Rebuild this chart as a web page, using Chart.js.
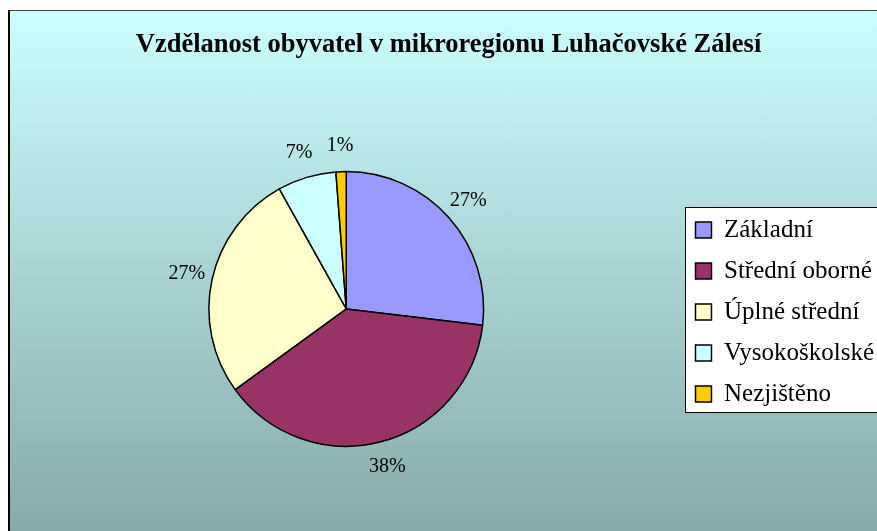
<!DOCTYPE html>
<html>
<head>
<meta charset="utf-8">
<script src="https://cdn.jsdelivr.net/npm/chart.js@4.4.1/dist/chart.umd.min.js"></script>
<style>
  html, body { margin: 0; padding: 0; background: #fff; overflow: hidden; width: 877px; height: 531px; }
  #frame {
    position: absolute; left: 8px; top: 10px; width: 930px; height: 530px;
    border-left: 2px solid #000; border-top: 1px solid #404040;
    background: linear-gradient(to bottom, #cbfefe 0%, #86a8a8 100%);
  }
  #chart { position: absolute; left: 0; top: 0; }
</style>
</head>
<body>
<div id="frame"></div>
<canvas id="chart" width="940" height="531"></canvas>
<script>
const titleText = 'Vzdělanost obyvatel v mikroregionu Luhačovské Zálesí';
const categories = ['Základní', 'Střední oborné', 'Úplné střední', 'Vysokoškolské', 'Nezjištěno'];
const shares = [26.9, 38.1, 26.9, 6.9, 1.2];
const sliceColors = ['#9999ff', '#993366', '#ffffcc', '#ccffff', '#ffcc00'];

Chart.defaults.font.family = '"Liberation Serif", "Times New Roman", serif';
Chart.defaults.color = '#000';

// bílý rámeček za legendou
const legendFrame = {
  id: 'legendFrame',
  beforeDraw(chart) {
    const hb = chart.legend.legendHitBoxes;
    if (!hb || !hb.length) return;
    const last = hb[hb.length - 1];
    const left = Math.round(hb[0].left - 10);
    const top = Math.round(hb[0].top - 10.5);
    const bottom = Math.round(last.top + 30.5);
    const ctx = chart.ctx;
    ctx.save();
    ctx.fillStyle = '#fff';
    ctx.fillRect(left, top, chart.width - left + 10, bottom - top);
    ctx.strokeStyle = '#000';
    ctx.lineWidth = 1;
    ctx.strokeRect(left + 0.5, top + 0.5, chart.width, bottom - top);
    ctx.restore();
  }
};

// procenta vně výsečí
const sliceLabels = {
  id: 'sliceLabels',
  afterDatasetsDraw(chart) {
    const ctx = chart.ctx;
    const meta = chart.getDatasetMeta(0);
    const total = shares.reduce((a, b) => a + b, 0);
    ctx.save();
    ctx.font = '20px "Liberation Serif", serif';
    ctx.fillStyle = '#000';
    ctx.textAlign = 'center';
    ctx.textBaseline = 'middle';
    meta.data.forEach((arc, i) => {
      const p = arc.getProps(['x', 'y', 'startAngle', 'endAngle', 'outerRadius'], true);
      const mid = (p.startAngle + p.endAngle) / 2;
      const d = p.outerRadius + 26;
      ctx.fillText(Math.round(shares[i] / total * 100) + '%', p.x + Math.cos(mid) * d, p.y + Math.sin(mid) * d);
    });
    ctx.restore();
  }
};

new Chart(document.getElementById('chart'), {
  type: 'pie',
  data: {
    labels: categories,
    datasets: [{
      data: shares,
      backgroundColor: sliceColors,
      borderColor: '#000',
      borderWidth: 1.5
    }]
  },
  options: {
    responsive: false,
    animation: false,
    layout: {
      padding: { left: 13, right: 56, top: 0, bottom: 84 }
    },
    plugins: {
      title: {
        display: true,
        text: titleText,
        color: '#000',
        font: { size: 26.5, weight: 'bold' },
        padding: { top: 29, bottom: 110 }
      },
      legend: {
        position: 'right',
        // prázdný titulek legendy jen posouvá položky dolů
        title: {
          display: true,
          text: '',
          font: { size: 1 },
          padding: { top: 176, bottom: 0 }
        },
        labels: {
          boxWidth: 16,
          boxHeight: 16,
          padding: 16,
          color: '#000',
          font: { size: 25 }
        }
      },
      tooltip: { enabled: false }
    }
  },
  plugins: [legendFrame, sliceLabels]
});
</script>
</body>
</html>
